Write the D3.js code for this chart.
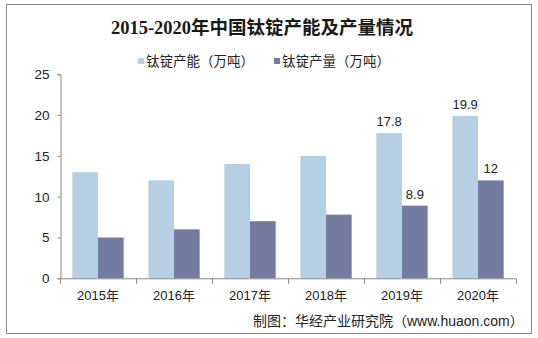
<!DOCTYPE html>
<html><head><meta charset="utf-8">
<script src="https://cdn.jsdelivr.net/npm/d3@7"></script>
<style>body{margin:0;background:#fff}svg{display:block}</style>
</head><body>
<svg id="c" width="538" height="338"></svg>
<script>
const categories = ["2015年","2016年","2017年","2018年","2019年","2020年"];
const capacity = [13, 12, 14, 15, 17.8, 19.9];
const output = [5, 6, 7, 7.8, 8.9, 12];
const capacityLabels = [null, null, null, null, "17.8", "19.9"];
const outputLabels = [null, null, null, null, "8.9", "12"];
const seriesNames = ["钛锭产能（万吨）", "钛锭产量（万吨）"];
const yTicks = [0, 5, 10, 15, 20, 25];
const title = "2015-2020年中国钛锭产能及产量情况";
const source = "制图：华经产业研究院（www.huaon.com）";

const colors = ["#b6cfe2", "#737c9e"];
const svg = d3.select("#c");
const font = "Arial, 'Liberation Sans', 'Noto Sans CJK SC', sans-serif";

svg.append("rect").attr("x", 6.5).attr("y", 4.5).attr("width", 525).attr("height", 329)
  .attr("fill", "#fff").attr("stroke", "#8a8a8a").attr("stroke-width", 1);

svg.append("text").attr("x", 262).attr("y", 34).attr("text-anchor", "middle")
  .attr("font-family", "'Liberation Serif', 'Times New Roman', 'Noto Sans CJK SC', serif")
  .attr("font-weight", "bold").attr("font-size", 18.5).attr("fill", "#1a1a1a").text(title);

// legend
const legendX = [138, 274];
seriesNames.forEach((n, i) => {
  svg.append("rect").attr("x", legendX[i]).attr("y", 58).attr("width", 6).attr("height", 6).attr("fill", colors[i]);
  svg.append("text").attr("x", legendX[i] + 8).attr("y", 66).attr("font-family", font)
    .attr("font-size", 13.5).attr("fill", "#222").text(n);
});

const x = d3.scaleBand().domain(categories).range([60, 516]).paddingInner(0).paddingOuter(0);
const xs = d3.scaleBand().domain([0, 1]).range([0, x.bandwidth()]).paddingOuter(0.48).paddingInner(0);
const y = d3.scaleLinear().domain([0, 25]).range([278.3, 74.3]);

const g = svg.append("g");
const series = [capacity, output];
const labels = [capacityLabels, outputLabels];
series.forEach((vals, si) => {
  const rows = vals.map((v, i) => ({v, i, label: labels[si][i]}));
  g.selectAll(null).data(rows).enter().append("rect")
    .attr("x", d => x(categories[d.i]) + xs(si))
    .attr("y", d => y(d.v))
    .attr("width", xs.bandwidth())
    .attr("height", d => y(0) - y(d.v))
    .attr("fill", colors[si]);
  g.selectAll(null).data(rows.filter(d => d.label != null)).enter().append("text")
    .attr("x", d => x(categories[d.i]) + xs(si) + xs.bandwidth() / 2)
    .attr("y", d => y(d.v) - 7)
    .attr("text-anchor", "middle").attr("font-family", font).attr("font-size", 13).attr("fill", "#222")
    .text(d => d.label);
});

// y axis
const yAxis = d3.axisLeft(y).tickValues(yTicks).tickSize(3).tickPadding(8).tickFormat(d3.format("d"));
const ya = svg.append("g").attr("transform", "translate(60.5,0)").call(yAxis);
ya.select(".domain").attr("stroke", "#888");
ya.selectAll(".tick line").attr("stroke", "#888");
ya.selectAll("text").attr("font-family", font).attr("font-size", 13.5).attr("fill", "#222");

// x axis
const xa = svg.append("g").attr("transform", "translate(0," + (y(0) + 0.5) + ")");
xa.append("line").attr("x1", 60).attr("x2", 516).attr("stroke", "#888");
const bounds = categories.map(c => x(c)).concat([x(categories[categories.length - 1]) + x.bandwidth()]);
xa.selectAll(null).data(bounds).enter().append("line")
  .attr("x1", d => Math.round(d) + 0.5).attr("x2", d => Math.round(d) + 0.5).attr("y1", 0).attr("y2", 5).attr("stroke", "#888");
xa.selectAll(null).data(categories).enter().append("text")
  .attr("x", d => x(d) + x.bandwidth() / 2).attr("y", 21).attr("text-anchor", "middle")
  .attr("font-family", font).attr("font-size", 13).attr("fill", "#222").text(d => d);

svg.append("text").attr("x", 253).attr("y", 326).attr("font-family", font)
  .attr("font-size", 14).attr("fill", "#222").text(source);
</script>
</body></html>
